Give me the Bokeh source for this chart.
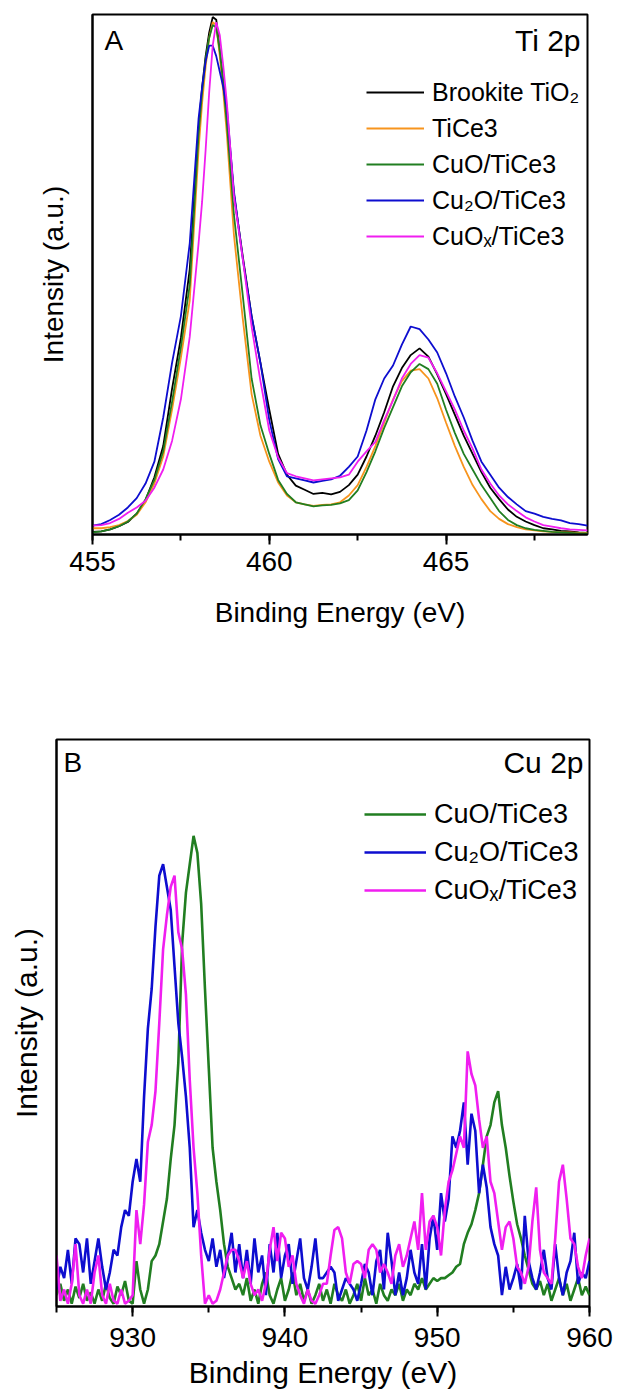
from bokeh.plotting import figure
from bokeh.models import Range1d, SingleIntervalTicker, FixedTicker, Legend, LegendItem, Label
from bokeh.layouts import column
from bokeh.embed import file_html
from bokeh.resources import INLINE

FONT = "Liberation Sans"

# ---------------- Panel A : Ti 2p ----------------
ti_energy = [455.0, 455.25, 455.5, 455.75, 456.0, 456.25, 456.5, 456.75, 457.0, 457.25, 457.5, 457.75,
             458.0, 458.1, 458.2, 458.3, 458.4, 458.5, 458.6, 458.7, 458.8,
             459.0, 459.25, 459.5, 459.75, 460.0, 460.25, 460.5, 460.75, 461.0, 461.25, 461.5, 461.75,
             462.0, 462.25, 462.5, 462.75, 463.0, 463.25, 463.5, 463.75, 464.0, 464.25, 464.5, 464.75,
             465.0, 465.25, 465.5, 465.75, 466.0, 466.25, 466.5, 466.75, 467.0, 467.25, 467.5, 467.75,
             468.0, 468.25, 468.5, 468.75, 469.0]

ti_brookite = [.005, .006, .010, .016, .024, .040, .066, .110, .170, .280, .378, .510,
               .780, .860, .920, .965, .995, .990, .930, .870, .810,
               .655, .535, .420, .330, .240, .155, .115, .094, .086, .078, .080, .077,
               .082, .095, .115, .150, .190, .235, .285, .320, .345, .358, .342, .308,
               .270, .230, .190, .155, .120, .090, .068, .048, .034, .025, .018, .012,
               .010, .007, .006, .004, .003]

ti_tice3 = [.012, .012, .014, .018, .026, .038, .062, .098, .150, .240, .340, .450,
            .740, .830, .900, .955, .985, .980, .920, .850, .770,
            .576, .415, .270, .190, .140, .100, .075, .062, .058, .055, .057, .058,
            .062, .075, .095, .130, .170, .215, .260, .295, .315, .318, .300, .262,
            .215, .170, .130, .095, .068, .045, .030, .020, .014, .010, .008, .006,
            .005, .004, .004, .003, .003]

ti_cuo = [.004, .006, .010, .016, .025, .040, .068, .105, .160, .255, .360, .480,
          .770, .850, .915, .955, .980, .975, .930, .865, .790,
          .615, .460, .300, .210, .155, .105, .078, .062, .058, .054, .056, .057,
          .060, .066, .085, .120, .160, .205, .245, .285, .312, .328, .318, .290,
          .240, .195, .155, .125, .095, .070, .045, .028, .018, .012, .009, .007,
          .005, .004, .003, .002, .002]

ti_cu2o = [.017, .020, .028, .038, .052, .070, .098, .140, .225, .330, .420, .560,
           .800, .860, .910, .940, .940, .920, .890, .860, .820,
           .660, .530, .420, .330, .220, .145, .112, .108, .104, .100, .103, .106,
           .113, .130, .150, .200, .260, .300, .325, .365, .400, .395, .375, .350,
           .310, .265, .225, .180, .140, .115, .090, .072, .058, .045, .040, .034,
           .030, .027, .022, .020, .017]

ti_cuox = [.017, .018, .022, .030, .042, .052, .065, .090, .125, .180, .260, .380,
           .560, .640, .740, .850, .940, .985, .960, .900, .830,
           .650, .530, .400, .295, .200, .148, .118, .112, .108, .104, .106, .108,
           .110, .115, .140, .160, .178, .220, .258, .300, .328, .345, .340, .310,
           .275, .240, .200, .165, .125, .098, .075, .058, .045, .033, .025, .018,
           .015, .012, .010, .009, .008]

ti_labels = ["Brookite TiO\u2082", "TiCe3", "CuO/TiCe3", "Cu\u2082O/TiCe3", "CuO\u2093/TiCe3"]
ti_colors = ["#000000", "#F7941D", "#217E21", "#0D0DCF", "#F01EF0"]

# ---------------- Panel B : Cu 2p ----------------
cu_energy = [925.0 + 0.25 * i for i in range(141)]

cu_cuo = [.02, .04, .01, .03, .005, .035, .015, .04, .01, .025, .005, .03, .01, .04, .015, .005, .035, .02, .045, .01, .005,
          .08, .03, .005, .03, .08, .09, .11, .15, .19, .26, .32, .43, .64, .73, .78, .83, .80, .71, .56, .42, .28, .22, .17, .11, .07, .05, .03, .04,
          .02, .05, .01, .03, .005, .04, .06, .02, .005, .03, .05, .01, .03, .06, .02, .04, .01, .03, .005, .02, .04,
          .01, .03, .005, .04, .02, .01, .03, .005, .02, .04, .01, .05, .02, .03, .005, .04, .02, .01, .03, .02, .04, .01, .03, .02, .04, .03, .05, .03, .04, .05, .045, .05,
          .05, .055, .06, .07, .075, .11, .13, .145, .17, .20, .25, .30, .32, .36, .38, .32, .28, .23, .185, .145, .12, .09, .065, .04, .03, .045, .02, .04, .01, .03, .05, .02, .04, .01, .03, .05, .02, .035, .02]

cu_cu2o = [.03, .07, .05, .10, .04, .12, .11, .06, .12, .04, .08, .12, .07, .03, .06, .10, .09, .14, .17, .16, .22,
           .26, .22, .37, .49, .56, .67, .76, .78, .74, .70, .60, .50, .44, .37, .28, .14, .17, .13, .10, .08, .12, .07, .10, .05, .09, .13, .06, .11,
           .05, .10, .04, .12, .06, .09, .02, .11, .06, .13, .05, .09, .11, .04, .08, .12, .05, .03, .07, .12, .05,
           .05, .06, .07, .06, .01, .03, .05, .04, .03, .01, .04, .075, .06, .02, .08, .10, .03, .13, .08, .02, .06, .02, .05, .10, .06, .04, .11, .03, .12, .16, .10, .20,
           .15, .19, .30, .28, .31, .36, .25, .34, .31, .20, .25, .21, .14, .11, .09, .02, .07, .03, .05, .075, .03, .16, .08, .05, .03, .06, .10, .05, .03, .11, .05, .02, .06, .08, .13, .04, .06, .05, .08]

cu_cuox = [.09, .01, .03, .005, .04, .11, .02, .005, .03, .005, .06, .09, .02, .005, .04, .01, .005, .03, .005, .01, .02,
           .17, .11, .18, .29, .32, .38, .50, .63, .69, .74, .76, .66, .63, .55, .40, .28, .20, .09, .005, .02, .005, .01, .03, .06, .09, .10, .10, .08,
           .05, .08, .04, .02, .03, .01, .04, .10, .14, .08, .13, .12, .07, .09, .04, .02, .005, .03, .01, .005, .02,
           .04, .04, .09, .135, .14, .12, .06, .04, .075, .08, .075, .05, .10, .11, .10, .06, .075, .06, .04, .09, .11, .07, .09, .12, .15, .10, .20, .10, .15, .16, .14, .09,
           .17, .22, .24, .27, .30, .28, .45, .41, .39, .33, .28, .30, .22, .20, .15, .10, .14, .15, .12, .07, .06, .04, .07, .15, .21, .10, .06, .05, .04, .12, .22, .25, .19, .12, .11, .07, .05, .09, .12]

cu_labels = ["CuO/TiCe3", "Cu\u2082O/TiCe3", "CuO\u2093/TiCe3"]
cu_colors = ["#217E21", "#0D0DCF", "#F01EF0"]

assert len(ti_energy) == len(ti_brookite) == len(ti_tice3) == len(ti_cuo) == len(ti_cu2o) == len(ti_cuox)
assert len(cu_energy) == len(cu_cuo) == len(cu_cu2o) == len(cu_cuox)


def style(p, tick_font, title_font, label_standoff_x, title_standoff_x, y_standoff):
    p.grid.visible = False
    p.outline_line_color = "black"
    p.outline_line_width = 2
    p.outline_line_alpha = 1
    ax = p.xaxis[0]
    ax.axis_line_width = 2
    ax.major_tick_line_width = 2
    ax.minor_tick_line_width = 2
    ax.major_tick_out = 10
    ax.major_tick_in = 0
    ax.minor_tick_out = 6
    ax.minor_tick_in = 0
    ax.major_label_text_font = FONT
    ax.major_label_text_font_size = tick_font
    ax.major_label_text_color = "black"
    ax.major_label_standoff = label_standoff_x
    ax.axis_label = "Binding Energy (eV)"
    ax.axis_label_text_font = FONT
    ax.axis_label_text_font_size = title_font
    ax.axis_label_text_font_style = "normal"
    ax.axis_label_text_color = "black"
    ax.axis_label_standoff = title_standoff_x
    ay = p.yaxis[0]
    ay.ticker = FixedTicker(ticks=[])
    ay.major_tick_out = 0
    ay.major_tick_in = 0
    ay.minor_tick_out = 0
    ay.axis_line_width = 2
    ay.axis_label = "Intensity (a.u.)"
    ay.axis_label_text_font = FONT
    ay.axis_label_text_font_size = title_font
    ay.axis_label_text_font_style = "normal"
    ay.axis_label_text_color = "black"
    ay.axis_label_standoff = y_standoff


# Panel A
pA = figure(width=617, height=660, output_backend="svg", toolbar_location=None,
            x_range=Range1d(455, 469), y_range=Range1d(0, 1.0), frame_align=False,
            min_border_left=92, min_border_right=30, min_border_top=14, min_border_bottom=126)
pA.xaxis.ticker = SingleIntervalTicker(interval=5, num_minor_ticks=2)
style(pA, "28px", "28px", 7, 23, 24)

rA = []
for ys, c in zip([ti_brookite, ti_tice3, ti_cuo, ti_cu2o, ti_cuox], ti_colors):
    rA.append(pA.line(ti_energy, ys, line_color=c, line_width=1.8))

legA = Legend(items=[LegendItem(label=l, renderers=[r]) for l, r in zip(ti_labels, rA)],
              location=(274, 283), glyph_width=58, glyph_height=30, label_height=30,
              label_standoff=8, spacing=6, padding=0, margin=0,
              border_line_color=None, background_fill_alpha=0,
              label_text_font=FONT, label_text_font_size="25px", label_text_color="black")
pA.add_layout(legA)

pA.add_layout(Label(x=12, y=494, x_units="screen", y_units="screen", text="A",
                    text_font=FONT, text_font_size="28px", text_baseline="alphabetic",
                    text_align="left", text_color="black"))
pA.add_layout(Label(x=488, y=494, x_units="screen", y_units="screen", text="Ti 2p",
                    text_font=FONT, text_font_size="30px", text_baseline="alphabetic",
                    text_align="right", text_color="black"))

# Panel B
pB = figure(width=617, height=731, output_backend="svg", toolbar_location=None,
            x_range=Range1d(925, 960), y_range=Range1d(0, 1.0), frame_align=False,
            min_border_left=56, min_border_right=28, min_border_top=79, min_border_bottom=85)
pB.xaxis.ticker = SingleIntervalTicker(interval=10, num_minor_ticks=2)
style(pB, "28px", "30px", 11, 6, 14)

rB = []
for ys, c in zip([cu_cuo, cu_cu2o, cu_cuox], cu_colors):
    rB.append(pB.line(cu_energy, ys, line_color=c, line_width=2.6))

legB = Legend(items=[LegendItem(label=l, renderers=[r]) for l, r in zip(cu_labels, rB)],
              location=(308, 400), glyph_width=62, glyph_height=32, label_height=32,
              label_standoff=8, spacing=6, padding=0, margin=0,
              border_line_color=None, background_fill_alpha=0,
              label_text_font=FONT, label_text_font_size="27px", label_text_color="black")
pB.add_layout(legB)

pB.add_layout(Label(x=7, y=544, x_units="screen", y_units="screen", text="B",
                    text_font=FONT, text_font_size="28px", text_baseline="alphabetic",
                    text_align="left", text_color="black"))
pB.add_layout(Label(x=527, y=544, x_units="screen", y_units="screen", text="Cu 2p",
                    text_font=FONT, text_font_size="30px", text_baseline="alphabetic",
                    text_align="right", text_color="black"))

layout = column(pA, pB, spacing=0)
open("out.html", "w").write(file_html(layout, INLINE))
